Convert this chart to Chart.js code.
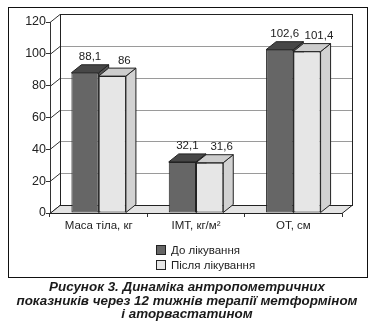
<!DOCTYPE html>
<html>
<head>
<meta charset="utf-8">
<script src="https://cdn.jsdelivr.net/npm/chart.js@4.4.0/dist/chart.umd.min.js"></script>
<style>
  html, body { margin: 0; padding: 0; background: #fff; }
  #wrap { position: relative; width: 374px; height: 326px; }
  #myChart { position: absolute; left: 0; top: 0; }
  #caption {
    position: absolute; left: 0; top: 280px; width: 374px;
    text-align: center; color: #1a1a1a;
    font: italic bold 13.4px "Liberation Sans", Arial, sans-serif;
    line-height: 13.5px;
  }
</style>
</head>
<body>
<div id="wrap">
  <canvas id="myChart" width="374" height="280"></canvas>
  <div id="caption">Рисунок 3. Динаміка антропометричних<br>показників через 12 тижнів терапії метформіном<br>і аторвастатином</div>
</div>
<script>
var categories = ['Маса тіла, кг', 'ІМТ, кг/м²', 'ОТ, см'];
var before = [88.1, 32.1, 102.6];
var after = [86, 31.6, 101.4];
var seriesNames = ['До лікування', 'Після лікування'];

// 3d depth of the box
var DX = 10, DY = -8;

var faces = [
  { front: '#666666', top: '#474747', side: '#555555' },
  { front: '#e6e6e6', top: '#cdcdcd', side: '#d2d2d2' }
];

var FONT = '"Liberation Sans", Arial, sans-serif';

function poly(ctx, pts, fill) {
  ctx.beginPath();
  ctx.moveTo(pts[0][0], pts[0][1]);
  for (var i = 1; i < pts.length; i++) ctx.lineTo(pts[i][0], pts[i][1]);
  ctx.closePath();
  if (fill) { ctx.fillStyle = fill; ctx.fill(); }
  ctx.stroke();
}

var box3d = {
  id: 'box3d',
  beforeDraw: function(chart) {
    var ctx = chart.ctx;
    ctx.save();
    ctx.fillStyle = '#fff';
    ctx.fillRect(0, 0, chart.width, chart.height);
    ctx.strokeStyle = '#111';
    ctx.lineWidth = 1;
    ctx.strokeRect(8.5, 7.5, 359, 270);
    ctx.restore();
  },
  beforeDatasetsDraw: function(chart) {
    var ctx = chart.ctx, a = chart.chartArea, y = chart.scales.y;
    ctx.save();
    ctx.lineWidth = 1;
    ctx.strokeStyle = '#222';
    // back wall
    ctx.fillStyle = '#fff';
    ctx.fillRect(a.left + DX, a.top + DY, a.right - a.left, a.bottom - a.top);
    // grid on the back wall and left wall
    y.ticks.forEach(function(t) {
      var py = Math.round(y.getPixelForValue(t.value)) + 0.5;
      if (t.value > 0) {
        ctx.strokeStyle = '#9a9a9a';
        ctx.beginPath();
        ctx.moveTo(a.left + DX, py + DY);
        ctx.lineTo(a.right + DX, py + DY);
        ctx.stroke();
      }
      ctx.strokeStyle = '#333';
      ctx.beginPath();
      ctx.moveTo(a.left, py);
      ctx.lineTo(a.left + DX, py + DY);
      ctx.stroke();
    });
    ctx.strokeStyle = '#222';
    ctx.strokeRect(a.left + DX + 0.5, Math.round(a.top) + DY + 0.5, a.right - a.left, a.bottom - a.top);
    // floor
    var b = Math.round(a.bottom) + 0.5;
    poly(ctx, [[a.left, b], [a.right, b], [a.right + DX, b + DY], [a.left + DX, b + DY]], '#e4e4e4');

    // top and side faces of the bars
    var n = chart.data.labels.length;
    for (var i = 0; i < n; i++) {
      chart.data.datasets.forEach(function(ds, d) {
        var bar = chart.getDatasetMeta(d).data[i];
        var l = bar.x - bar.width / 2, r = bar.x + bar.width / 2;
        var t = bar.y, bs = bar.base;
        ctx.strokeStyle = '#222';
        poly(ctx, [[r, bs], [r, t], [r + DX, t + DY], [r + DX, bs + DY]], faces[d].side);
        poly(ctx, [[l, t], [r, t], [r + DX, t + DY], [l + DX, t + DY]], faces[d].top);
      });
    }
    ctx.restore();
  },
  afterDatasetsDraw: function(chart) {
    var ctx = chart.ctx;
    ctx.save();
    ctx.fillStyle = '#222';
    ctx.font = '11.5px ' + FONT;
    ctx.textAlign = 'center';
    ctx.textBaseline = 'bottom';
    chart.data.datasets.forEach(function(ds, d) {
      chart.getDatasetMeta(d).data.forEach(function(bar, i) {
        var txt = String(ds.data[i]).replace('.', ',');
        ctx.fillText(txt, bar.x + DX / 2 + d * 7, bar.y + DY - 2);
      });
    });
    // legend
    ctx.textAlign = 'left';
    ctx.textBaseline = 'middle';
    chart.data.datasets.forEach(function(ds, d) {
      var cy = 250 + d * 15;
      ctx.fillStyle = ds.backgroundColor;
      ctx.fillRect(156.5, cy - 4.5, 9, 9);
      ctx.strokeStyle = '#222';
      ctx.strokeRect(156.5, cy - 4.5, 9, 9);
      ctx.fillStyle = '#222';
      ctx.fillText(ds.label, 171, cy + 0.5);
    });
    ctx.restore();
  }
};

var ctx = document.getElementById('myChart').getContext('2d');

var myChart = new Chart(ctx, {
  type: 'bar',
  data: {
    labels: categories,
    datasets: [{
      label: seriesNames[0],
      data: before,
      backgroundColor: faces[0].front,
      borderColor: '#222',
      borderWidth: 1,
      borderSkipped: false,
      categoryPercentage: 0.56,
      barPercentage: 1.0
    }, {
      label: seriesNames[1],
      data: after,
      backgroundColor: faces[1].front,
      borderColor: '#222',
      borderWidth: 1,
      borderSkipped: false,
      categoryPercentage: 0.56,
      barPercentage: 1.0
    }]
  },
  options: {
    responsive: false,
    animation: false,
    layout: { padding: { left: 0, right: 32, top: 22, bottom: 0 } },
    plugins: {
      legend: { display: false },
      tooltip: { enabled: false }
    },
    scales: {
      x: {
        grid: { drawOnChartArea: false, tickLength: 4, color: '#333', offset: true },
        border: { color: '#333' },
        ticks: {
          color: '#222', padding: 2,
          font: { family: FONT, size: 11.5 },
          maxRotation: 0
        },
        afterFit: function(s) { s.height = 67; }
      },
      y: {
        min: 0,
        max: 120,
        grid: { drawOnChartArea: false, tickLength: 4, color: '#333' },
        border: { color: '#333' },
        ticks: {
          stepSize: 20, color: '#222', padding: 0,
          font: { family: FONT, size: 12.5 }
        },
        afterFit: function(s) { s.width = 50; }
      }
    }
  },
  plugins: [box3d]
});
</script>
</body>
</html>
